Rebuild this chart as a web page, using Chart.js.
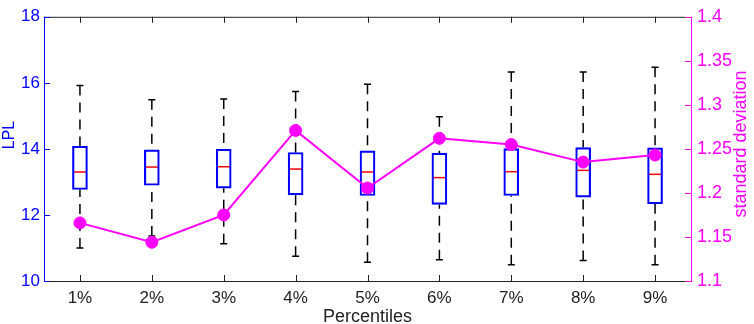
<!DOCTYPE html>
<html>
<head>
<meta charset="utf-8">
<script src="https://cdn.jsdelivr.net/npm/chart.js@4/dist/chart.umd.min.js"></script>
<style>
  body { margin: 0; background: #fff; }
  canvas { display: block; }
</style>
</head>
<body>
<canvas id="chart" width="754" height="324"></canvas>
<script>
// categories and values
const percentiles = ['1%', '2%', '3%', '4%', '5%', '6%', '7%', '8%', '9%'];
const whiskerHigh = [15.92, 15.49, 15.51, 15.74, 15.96, 14.97, 16.33, 16.33, 16.47];
const q3 = [14.08, 13.97, 13.99, 13.89, 13.94, 13.87, 14.01, 14.04, 14.03];
const medians = [13.30, 13.45, 13.46, 13.39, 13.30, 13.13, 13.31, 13.35, 13.23];
const q1 = [12.77, 12.90, 12.81, 12.61, 12.59, 12.32, 12.59, 12.54, 12.34];
const whiskerLow = [11.00, 11.36, 11.13, 10.75, 10.57, 10.64, 10.49, 10.62, 10.49];
const stdDev = [1.166, 1.144, 1.175, 1.271, 1.2055, 1.262, 1.255, 1.235, 1.243];

const lplTicks = [10, 12, 14, 16, 18];
const sdTicks = [1.1, 1.15, 1.2, 1.25, 1.3, 1.35, 1.4];

const BLUE = '#0000ff';
const RED = '#ff0000';
const MAGENTA = '#ff00ff';
const DARK = '#222222';
const FONT = "'Liberation Sans', Arial, sans-serif";

Chart.defaults.font.family = FONT;
Chart.defaults.font.size = 17;

// whiskers, caps and median marks, drawn under the bars and the line
const boxExtras = {
  id: 'boxExtras',
  beforeDatasetsDraw(chart) {
    const ctx = chart.ctx;
    const x = chart.scales.x;
    const y = chart.scales.y;
    ctx.save();
    percentiles.forEach((p, i) => {
      const cx = x.getPixelForValue(i);
      const top = y.getPixelForValue(whiskerHigh[i]);
      const low = y.getPixelForValue(whiskerLow[i]);
      const boxTop = y.getPixelForValue(q3[i]);
      const boxBot = y.getPixelForValue(q1[i]);

      ctx.strokeStyle = '#000';
      ctx.lineWidth = 1.5;
      ctx.setLineDash([10, 7]);
      ctx.beginPath();
      ctx.moveTo(cx, top);
      ctx.lineTo(cx, boxTop);
      ctx.moveTo(cx, low);
      ctx.lineTo(cx, boxBot);
      ctx.stroke();

      ctx.setLineDash([]);
      ctx.beginPath();
      ctx.moveTo(cx - 3.5, top);
      ctx.lineTo(cx + 3.5, top);
      ctx.moveTo(cx - 3.5, low);
      ctx.lineTo(cx + 3.5, low);
      ctx.stroke();

      const m = y.getPixelForValue(medians[i]);
      ctx.strokeStyle = RED;
      ctx.beginPath();
      ctx.moveTo(cx - 6.5, m);
      ctx.lineTo(cx + 6.5, m);
      ctx.stroke();
    });
    ctx.restore();
  },
  afterDraw(chart) {
    const ctx = chart.ctx;
    const a = chart.chartArea;
    const x = chart.scales.x;
    const y = chart.scales.y;
    const y1 = chart.scales.y1;
    ctx.save();
    ctx.lineWidth = 1;

    // black top and bottom frame
    ctx.strokeStyle = DARK;
    ctx.beginPath();
    ctx.moveTo(a.left, a.top + 0.5);
    ctx.lineTo(a.right - 6, a.top + 0.5);
    ctx.moveTo(a.left, a.bottom + 0.5);
    ctx.lineTo(a.right - 6, a.bottom + 0.5);
    percentiles.forEach((p, i) => {
      const px = Math.round(x.getPixelForValue(i)) + 0.5;
      ctx.moveTo(px, a.bottom);
      ctx.lineTo(px, a.bottom - 6);
      ctx.moveTo(px, a.top);
      ctx.lineTo(px, a.top + 6);
    });
    ctx.stroke();

    // left axis
    ctx.strokeStyle = BLUE;
    ctx.beginPath();
    ctx.moveTo(a.left + 0.5, a.top);
    ctx.lineTo(a.left + 0.5, a.bottom + 1);
    lplTicks.forEach(v => {
      const py = Math.round(y.getPixelForValue(v)) + 0.5;
      ctx.moveTo(a.left, py);
      ctx.lineTo(a.left + 6, py);
    });
    ctx.stroke();

    // right axis
    ctx.strokeStyle = MAGENTA;
    ctx.beginPath();
    ctx.moveTo(a.right + 0.5, a.top);
    ctx.lineTo(a.right + 0.5, a.bottom + 1);
    sdTicks.forEach(v => {
      const py = Math.round(y1.getPixelForValue(v)) + 0.5;
      ctx.moveTo(a.right, py);
      ctx.lineTo(a.right - 6, py);
    });
    ctx.stroke();

    // axis titles
    ctx.textAlign = 'center';
    ctx.textBaseline = 'alphabetic';
    ctx.font = '18px ' + FONT;
    ctx.fillStyle = DARK;
    ctx.fillText('Percentiles', (a.left + a.right) / 2, 322);

    ctx.save();
    ctx.translate(14, 135);
    ctx.rotate(-Math.PI / 2);
    ctx.font = '16px ' + FONT;
    ctx.fillStyle = BLUE;
    ctx.fillText('LPL', 0, 0);
    ctx.restore();

    ctx.save();
    ctx.translate(746, 144);
    ctx.rotate(-Math.PI / 2);
    ctx.font = '18px ' + FONT;
    ctx.fillStyle = MAGENTA;
    ctx.fillText('standard deviation', 0, 0);
    ctx.restore();

    ctx.restore();
  }
};

new Chart(document.getElementById('chart').getContext('2d'), {
  type: 'bar',
  data: {
    labels: percentiles,
    datasets: [
      {
        type: 'line',
        label: 'standard deviation',
        data: stdDev,
        yAxisID: 'y1',
        borderColor: MAGENTA,
        backgroundColor: MAGENTA,
        borderWidth: 2,
        pointRadius: 6,
        pointBorderWidth: 1,
        pointBackgroundColor: MAGENTA,
        pointBorderColor: MAGENTA,
        tension: 0,
        order: 0
      },
      {
        label: 'LPL',
        data: percentiles.map((p, i) => [q1[i], q3[i]]),
        yAxisID: 'y',
        backgroundColor: 'rgba(0,0,0,0)',
        borderColor: BLUE,
        borderWidth: 1.5,
        borderSkipped: false,
        barThickness: 15,
        order: 1
      }
    ]
  },
  options: {
    responsive: false,
    animation: false,
    layout: { padding: { top: 10, bottom: 0, left: 0, right: 0 } },
    plugins: {
      legend: { display: false },
      tooltip: { enabled: false }
    },
    scales: {
      x: {
        offset: true,
        grid: { display: false, drawTicks: false },
        border: { display: false },
        ticks: { color: DARK, padding: 7 },
        afterFit: s => { s.height = 43; }
      },
      y: {
        position: 'left',
        min: 10,
        max: 18,
        grid: { display: false, drawTicks: false },
        border: { display: false },
        ticks: { stepSize: 2, color: BLUE, padding: 4 },
        afterFit: s => { s.width = 44; }
      },
      y1: {
        position: 'right',
        min: 1.1,
        max: 1.4,
        grid: { display: false, drawTicks: false },
        border: { display: false },
        ticks: {
          stepSize: 0.05,
          color: MAGENTA,
          padding: 6,
          font: { size: 18 },
          callback: v => String(Number(v.toFixed(2)))
        },
        afterFit: s => { s.width = 63; }
      }
    }
  },
  plugins: [boxExtras]
});
</script>
</body>
</html>
